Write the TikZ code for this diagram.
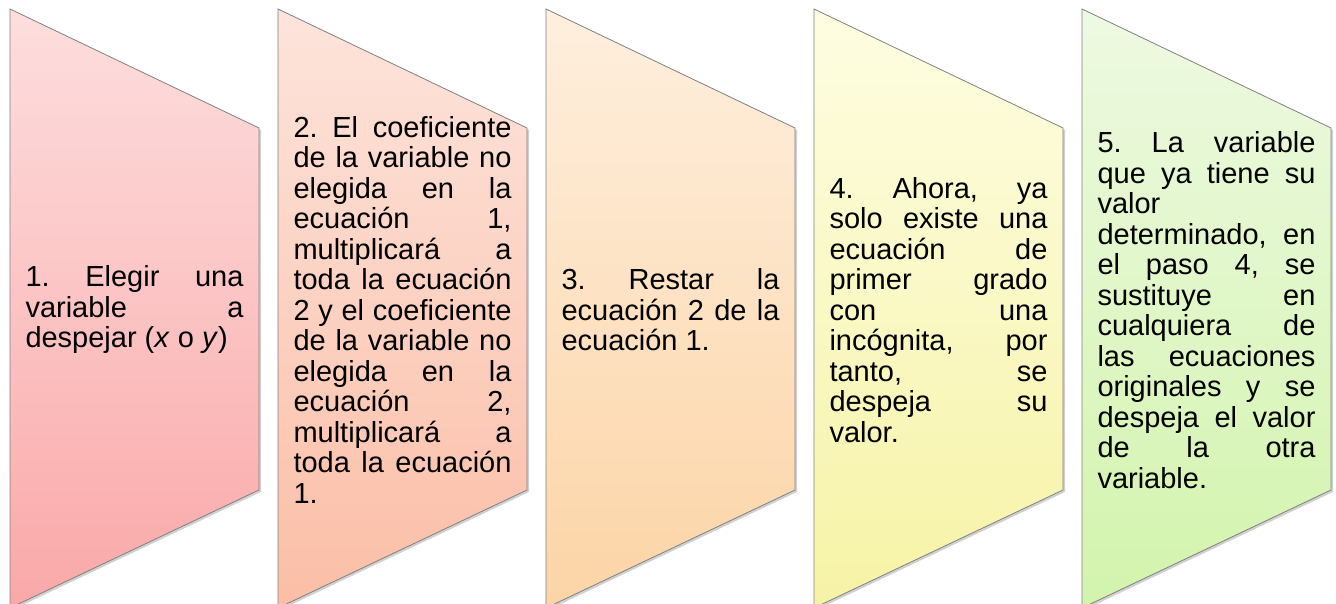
\documentclass[tikz,border=0pt]{standalone}
\usepackage{fontspec}
\setmainfont{Liberation Sans}
\frenchspacing
\definecolor{c1t}{RGB}{253,222,222}
\definecolor{c1b}{RGB}{250,168,168}
\definecolor{c2t}{RGB}{253,228,220}
\definecolor{c2b}{RGB}{251,190,166}
\definecolor{c3t}{RGB}{254,239,222}
\definecolor{c3b}{RGB}{252,212,166}
\definecolor{c4t}{RGB}{254,253,226}
\definecolor{c4b}{RGB}{246,243,166}
\definecolor{c5t}{RGB}{238,249,226}
\definecolor{c5b}{RGB}{210,244,172}
\newcommand{\Jl}[1]{\makebox[218pt][s]{\spaceskip=0pt\xspaceskip=0pt\relax #1}}
\newcommand{\Rs}{\spaceskip=0pt\xspaceskip=0pt\relax}
\begin{document}
\begin{tikzpicture}[x=1pt,y=1pt,
  chevborder/.style={draw=black!50, line width=0.8pt},
  chevshadow/.style={fill=black, opacity=0.18},
  steptext/.style={text width=218pt, align=flush left, inner sep=0pt,
    font=\fontsize{29}{30.5}\selectfont}]
\useasboundingbox (0,0) rectangle (1336,604);
\foreach \L/\ct/\cb in {10/c1t/c1b, 278/c2t/c2b, 546/c3t/c3b, 814/c4t/c4b, 1082/c5t/c5b}{
  \fill[chevshadow] (\L+2,593) -- (\L+251,474) -- (\L+251,112) -- (\L+2,-6) -- cycle;
  \path[top color=\ct, bottom color=\cb] (\L,595) -- (\L+249,476) -- (\L+249,114) -- (\L,-4) -- cycle;
  \draw[chevborder] (\L,595) -- (\L+249,476) -- (\L+249,114) -- (\L,-4) -- cycle;
}
\node[steptext] (s1) at (134.5,294) {\Rs\Jl{1. Elegir una}\\ \Jl{variable a}\\ despejar (\textit{x} o \textit{y})};
\node[steptext] (s2) at (402.5,294) {\Rs\Jl{2. El coeficiente}\\ \Jl{de la variable no}\\ \Jl{elegida en la}\\ \Jl{ecuación 1,}\\ \Jl{multiplicará a}\\ \Jl{toda la ecuación}\\ \Jl{2 y el coeficiente}\\ \Jl{de la variable no}\\ \Jl{elegida en la}\\ \Jl{ecuación 2,}\\ \Jl{multiplicará a}\\ \Jl{toda la ecuación}\\ 1.};
\node[steptext] (s3) at (670.5,294) {\Rs\Jl{3. Restar la}\\ \Jl{ecuación 2 de la}\\ ecuación 1.};
\node[steptext] (s4) at (938.5,294) {\Rs\Jl{4. Ahora, ya}\\ \Jl{solo existe una}\\ \Jl{ecuación de}\\ \Jl{primer grado}\\ \Jl{con una}\\ \Jl{incógnita, por}\\ \Jl{tanto, se}\\ \Jl{despeja su}\\ valor.};
\node[steptext] (s5) at (1206.5,294) {\Rs\Jl{5. La variable}\\ \Jl{que ya tiene su}\\ valor\\ \Jl{determinado, en}\\ \Jl{el paso 4, se}\\ \Jl{sustituye en}\\ \Jl{cualquiera de}\\ \Jl{las ecuaciones}\\ \Jl{originales y se}\\ \Jl{despeja el valor}\\ \Jl{de la otra}\\ variable.};
\end{tikzpicture}
\end{document}
